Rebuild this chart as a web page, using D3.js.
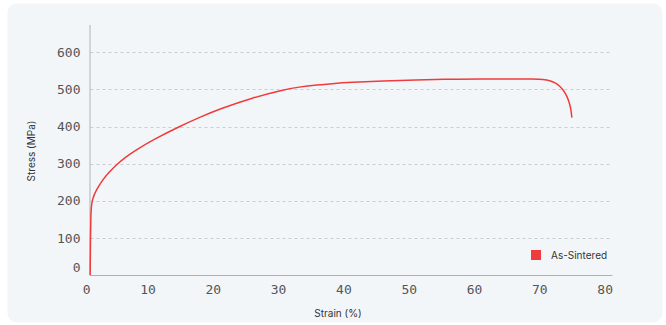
<!DOCTYPE html>
<html><head><meta charset="utf-8">
<script src="https://cdn.jsdelivr.net/npm/d3@7"></script>
<style>
html,body{margin:0;padding:0;background:#fff;}
svg{display:block;}
</style></head>
<body>
<svg id="c" width="666" height="325"></svg>
<script>
const seriesName = "As-Sintered";
const strain = [0.1, 0.15, 0.2, 0.3, 0.5, 1, 2, 3, 4.3, 5.5, 7.1, 10, 13.75, 17, 20, 25, 29.6, 32, 35, 37, 40, 45, 50, 55, 60, 65, 68, 69.5, 70.5, 71.3, 72, 72.6, 73.1, 73.5, 73.75, 73.85];
const stress = [0, 100, 160, 190, 207, 228, 256, 277, 300, 317.5, 337, 367, 400, 426, 448, 478, 499, 506.5, 512.5, 515.5, 519, 523, 526, 527.5, 528, 528, 528, 527, 524, 518, 509, 497, 482, 463, 443, 424];
const xTicks = [0, 10, 20, 30, 40, 50, 60, 70, 80];
const yTicks = [0, 100, 200, 300, 400, 500, 600];
const xTitle = "Strain (%)";
const yTitle = "Stress (MPa)";

const svg = d3.select("#c");
svg.append("rect").attr("x", 7.5).attr("y", 3.5).attr("width", 655).attr("height", 319)
  .attr("rx", 9).attr("fill", "#f3f6f9");

const x = d3.scaleLinear().domain([0, 80]).range([89.5, 612]);
const y = d3.scaleLinear().domain([0, 675]).range([275, 24.5]);
const mono = "'DejaVu Sans Mono', monospace";
const sans = "Inter, 'Noto Sans', sans-serif";

// gridlines
svg.append("g").selectAll("line").data(yTicks.filter(d => d > 0)).join("line")
  .attr("x1", x(0) + 1).attr("x2", x(80))
  .attr("y1", d => Math.round(y(d)) + 0.5).attr("y2", d => Math.round(y(d)) + 0.5)
  .attr("stroke", "#c9cdd2").attr("stroke-width", 1).attr("stroke-dasharray", "3,3");

// axes
const xAxis = svg.append("g").attr("transform", `translate(0,${y(0)})`)
  .call(d3.axisBottom(x).tickValues(xTicks).tickSize(0).tickPadding(10).tickFormat(d3.format("d")));
xAxis.select(".domain").attr("stroke", "#aeb2b7");
xAxis.selectAll("text").attr("text-anchor", "end").attr("x", 0).attr("transform", "translate(0.5,0)")
  .attr("font-family", mono).attr("font-size", 13).attr("fill", "#555");

const yAxis = svg.append("g").attr("transform", `translate(${x(0)},0)`)
  .call(d3.axisLeft(y).tickValues(yTicks).tickSize(0).tickPadding(9).tickFormat(d3.format("d")));
yAxis.select(".domain").attr("stroke", "#aeb2b7");
yAxis.selectAll("text").attr("font-family", mono).attr("font-size", 13).attr("fill", "#555");
yAxis.selectAll(".tick").filter(d => d === 0).select("text").attr("y", -8);

// line
const line = d3.line().x((d, i) => x(strain[i])).y(d => y(d)).curve(d3.curveBasis);
svg.append("path").datum(stress).attr("d", line)
  .attr("fill", "none").attr("stroke", "#ef3b3b").attr("stroke-width", 1.5);

// titles
svg.append("text").attr("x", 338).attr("y", 317).attr("text-anchor", "middle")
  .attr("font-family", sans).attr("font-size", 10).attr("fill", "#333").text(xTitle);
svg.append("text").attr("transform", "translate(35,151) rotate(-90)").attr("text-anchor", "middle")
  .attr("font-family", sans).attr("font-size", 10).attr("fill", "#333").text(yTitle);

// legend
svg.append("rect").attr("x", 531).attr("y", 250).attr("width", 10).attr("height", 10).attr("fill", "#ef3b3b");
svg.append("text").attr("x", 551).attr("y", 259).attr("font-family", sans).attr("font-size", 10)
  .attr("fill", "#333").text(seriesName);
</script>
</body></html>
